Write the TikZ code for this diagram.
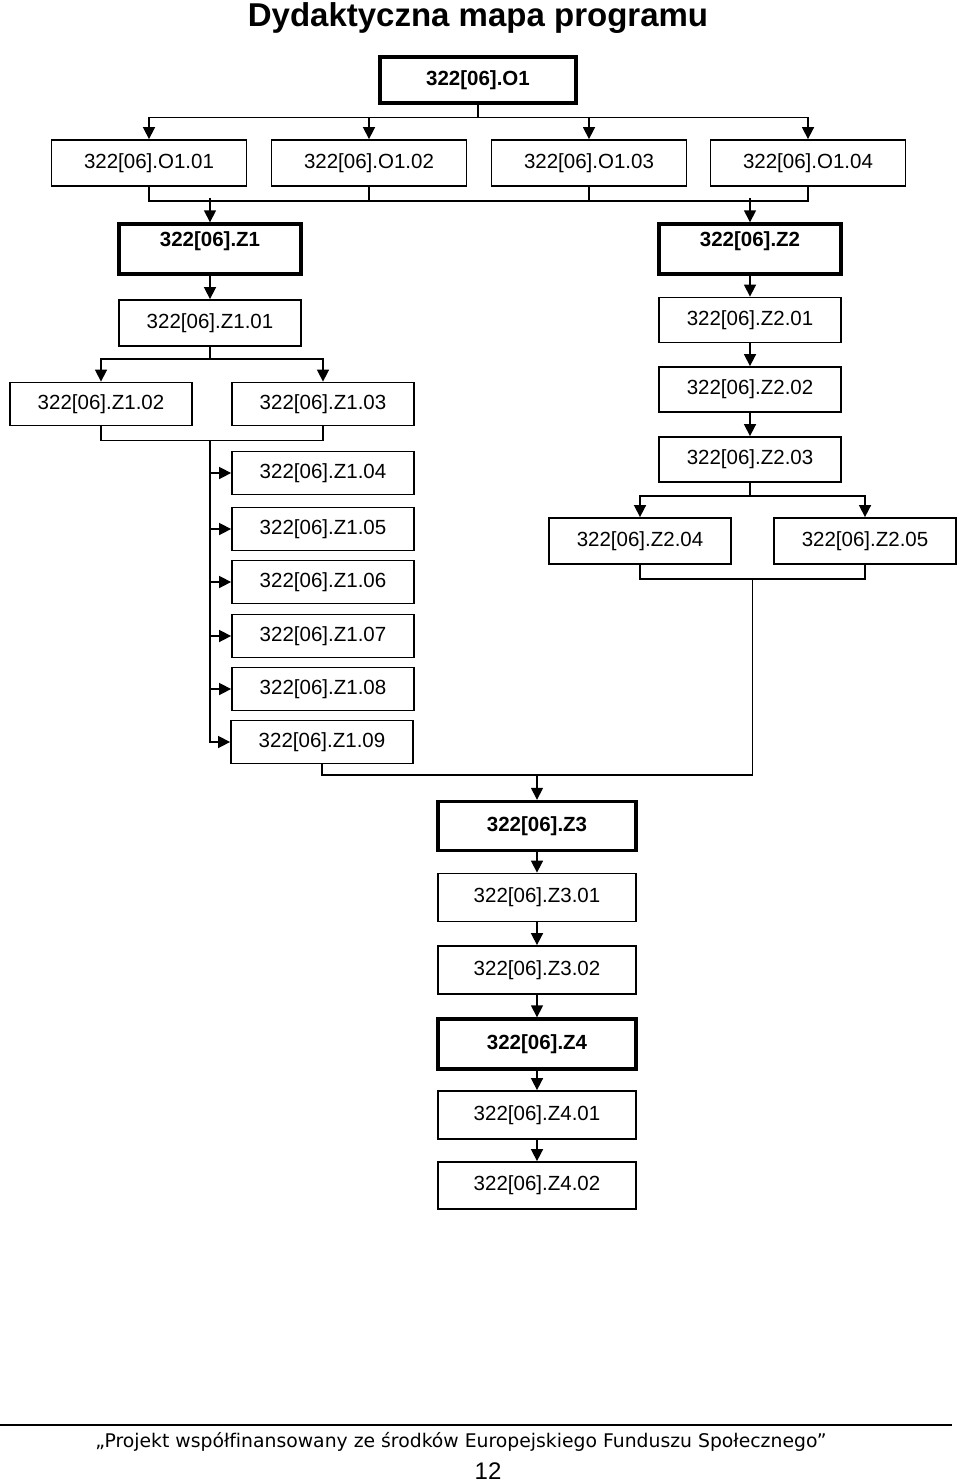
\documentclass[tikz,border=0pt]{standalone}
\usepackage{fontspec}
\setmainfont{Liberation Sans}
\newfontfamily\footfont[Ligatures=NoCommon]{DejaVu Sans}
\usetikzlibrary{arrows.meta,calc}

\begin{document}
\begin{tikzpicture}[x=1pt, y=-1pt, line width=1.6pt,
  unitbox/.style={draw, line width=1.8pt, minimum width=182pt, minimum height=43pt, inner sep=0pt, font=\fontsize{20.5}{24}\selectfont},
  modbox/.style={unitbox, line width=3.4pt, font=\fontsize{20.5}{24}\selectfont\bfseries},
  headbox/.style={modbox, minimum height=50pt, text height=15pt, text depth=20pt},
  arr/.style={-{Triangle[length=12pt,width=12pt]}}]
\useasboundingbox (0,0) rectangle (960,1482);
\node[font=\fontsize{33}{38}\selectfont\bfseries, anchor=base] (title) at (478,27) {Dydaktyczna mapa programu};
%Level O1
\node[modbox, minimum width=196pt, minimum height=46pt] (o1) at (478,80) {322[06].O1};
\node[unitbox, minimum width=195pt, minimum height=46pt] (o1a) at (149,163) {322[06].O1.01};
\node[unitbox, minimum width=195pt, minimum height=46pt] (o1b) at (369,163) {322[06].O1.02};
\node[unitbox, minimum width=195pt, minimum height=46pt] (o1c) at (589,163) {322[06].O1.03};
\node[unitbox, minimum width=195pt, minimum height=46pt] (o1d) at (808,163) {322[06].O1.04};
\foreach \n in {o1a,o1b,o1c,o1d}
  \draw[arr] (o1.south) -- ++(0,13) -| (\n.north);
\draw (o1a.south) -- ++(0,14) -| (o1d.south);
\draw (o1b.south) -- ++(0,14);
\draw (o1c.south) -- ++(0,14);
%Level Z1
\node[headbox] (z1) at (210,249) {322[06].Z1};
\node[unitbox, minimum height=46pt] (z1a) at (210,323) {322[06].Z1.01};
\node[unitbox] (z1b) at (101,404) {322[06].Z1.02};
\node[unitbox] (z1c) at (323,404) {322[06].Z1.03};
\node[unitbox] (z1d) at (323,473) {322[06].Z1.04};
\node[unitbox] (z1e) at (323,529) {322[06].Z1.05};
\node[unitbox] (z1f) at (323,582) {322[06].Z1.06};
\node[unitbox] (z1g) at (323,636) {322[06].Z1.07};
\node[unitbox] (z1h) at (323,689) {322[06].Z1.08};
\node[unitbox] (z1i) at (322,742) {322[06].Z1.09};
\draw[arr] (z1.north) ++(0,-24) -- (z1.north);
\draw[arr] (z1) -- (z1a);
\draw[arr] (z1a.south) -- ++(0,12) -| (z1b.north);
\draw[arr] (z1a.south) -- ++(0,12) -| (z1c.north);
\draw (z1b.south) -- ++(0,14) -| (z1c.south);
\coordinate (t1) at ($(z1b.south)+(0,14)$);
\foreach \n in {z1d,z1e,z1f,z1g,z1h,z1i}
  \draw[arr] (z1a |- t1) |- (\n.west);
%Level Z2
\node[headbox] (z2) at (750,249) {322[06].Z2};
\node[unitbox, minimum height=45pt] (z2a) at (750,320) {322[06].Z2.01};
\node[unitbox, minimum height=45pt] (z2b) at (750,389.5) {322[06].Z2.02};
\node[unitbox, minimum height=45pt] (z2c) at (750,459.5) {322[06].Z2.03};
\node[unitbox, minimum height=46pt] (z2d) at (640,541) {322[06].Z2.04};
\node[unitbox, minimum height=46pt] (z2e) at (865,541) {322[06].Z2.05};
\draw[arr] (z2.north) ++(0,-24) -- (z2.north);
\draw[arr] (z2) -- (z2a);
\draw[arr] (z2a) -- (z2b);
\draw[arr] (z2b) -- (z2c);
\draw[arr] (z2c.south) -- ++(0,13) -| (z2d.north);
\draw[arr] (z2c.south) -- ++(0,13) -| (z2e.north);
\draw (z2d.south) -- ++(0,14) -| (z2e.south);
%Level Z3, Z4
\node[modbox, minimum width=198pt, minimum height=49pt] (z3) at (537,826) {322[06].Z3};
\node[unitbox, minimum width=198pt, minimum height=48pt] (z3a) at (537,897.5) {322[06].Z3.01};
\node[unitbox, minimum width=198pt, minimum height=48pt] (z3b) at (537,970) {322[06].Z3.02};
\node[modbox, minimum width=198pt, minimum height=50pt] (z4) at (537,1044) {322[06].Z4};
\node[unitbox, minimum width=198pt, minimum height=48pt] (z4a) at (537,1115) {322[06].Z4.01};
\node[unitbox, minimum width=198pt, minimum height=47pt] (z4b) at (537,1185.5) {322[06].Z4.02};
\coordinate (t2) at ($(z2d.south)!.5!(z2e.south)+(0,14)$);
\draw (z1i.south) |- ($(z3.north)+(0,-25)$);
\draw[arr] (t2) |- ($(z3.north)+(0,-25)$) -- (z3.north);
\draw[arr] (z3) -- (z3a);
\draw[arr] (z3a) -- (z3b);
\draw[arr] (z3b) -- (z4);
\draw[arr] (z4) -- (z4a);
\draw[arr] (z4a) -- (z4b);
%Footer
\draw[line width=1.4pt] (0,1425) -- (952,1425);
\node[font=\footfont\fontsize{18.8}{22}\selectfont] (proj) at (461,1442) {„Projekt współfinansowany ze środków Europejskiego Funduszu Społecznego”};
\node[font=\fontsize{24}{28}\selectfont] (page) at (488,1471) {12};
\end{tikzpicture}
\end{document}
